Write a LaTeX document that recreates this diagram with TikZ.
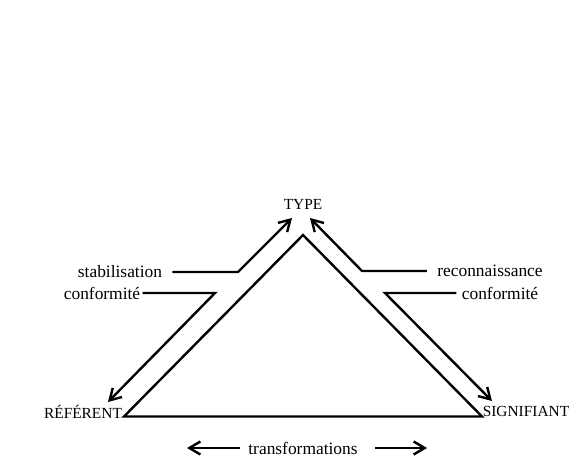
\documentclass[tikz,border=0pt]{standalone}
\usepackage{fontspec}
\setmainfont{Liberation Serif}
\usetikzlibrary{arrows.meta}
\tikzset{
    pole/.style={inner sep=0pt, font=\fontsize{7.7}{9}\selectfont},
    gloss/.style={inner sep=0pt, font=\fontsize{8.7}{10}\selectfont},
    side/.style={line width=1.2pt, line join=miter},
    arrow/.style={line width=1.2pt, -{Straight Barb[length=5.5pt,width=6.5pt]}}
}

\begin{document}
\begin{tikzpicture}[x=0.5pt, y=-0.5pt]
        \useasboundingbox (0,0) rectangle (569,463);

        % Nodes
        \node (type) [pole] at (303,204) {TYPE};
        \node (referent) [pole] at (83,412) {RÉFÉRENT};
        \node (signifiant) [pole] at (526,411) {SIGNIFIANT};

        \node (stab) [gloss] at (120,272) {stabilisation};
        \node (confL) [gloss] at (102,293) {conformité};
        \node (recon) [gloss] at (490,271) {reconnaissance};
        \node (confR) [gloss] at (500,293) {conformité};
        \node (transf) [gloss] at (303,448) {transformations};

        % Triangle
        \coordinate (apex) at (303,235);
        \coordinate (cornerL) at (124,416.5);
        \coordinate (cornerR) at (482,416.5);
        \draw[side] (cornerL) -- (apex) -- (cornerR) -- cycle;

        % Bends and tips
        \coordinate (stabbend) at (238,272);
        \coordinate (typeL) at (292,218);
        \coordinate (confLbend) at (215,293);
        \coordinate (referentup) at (108,402);
        \coordinate (reconbend) at (362,271);
        \coordinate (typeR) at (310,218);
        \coordinate (confRbend) at (385,293);
        \coordinate (signifiantup) at (492,401);
        \coordinate (transfL) at (187,448);
        \coordinate (transfR) at (427,448);

        % Arrows
        \draw[arrow] ([xshift=5pt]stab.east) -- (stabbend) -- (typeL);
        \draw[arrow] ([xshift=1pt]confL.east) -- (confLbend) -- (referentup);
        \draw[arrow] ([xshift=-5pt]recon.west) -- (reconbend) -- (typeR);
        \draw[arrow] ([xshift=-2.5pt]confR.west) -- (confRbend) -- (signifiantup);
        \draw[arrow] ([xshift=-4pt]transf.west) -- (transfL);
        \draw[arrow] ([xshift=8.5pt]transf.east) -- (transfR);

    \end{tikzpicture}
\end{document}
